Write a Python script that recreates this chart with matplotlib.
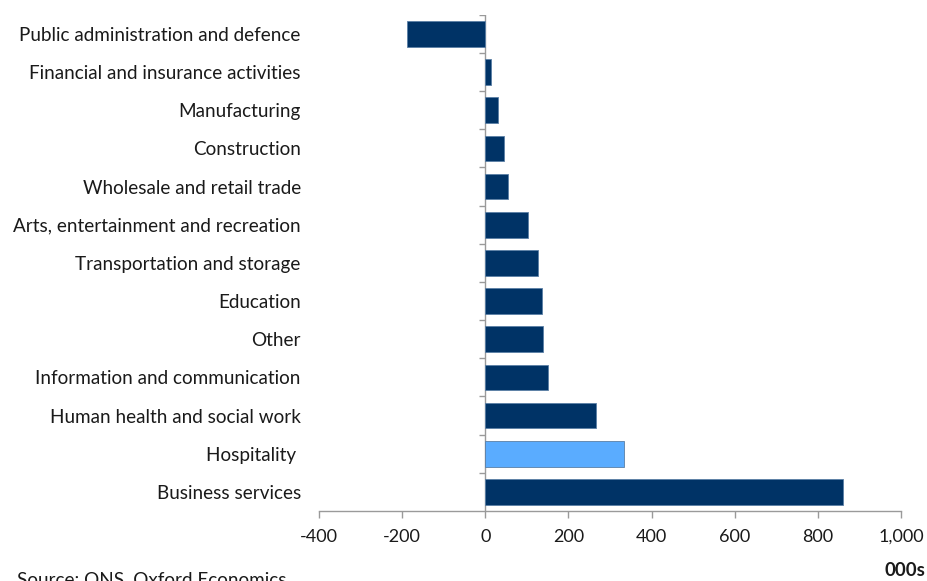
import numpy as np
import matplotlib.pyplot as plt

# Change in jobs by sector, thousands (top to bottom)
sectors = ['Public administration and defence', 'Financial and insurance activities',
           'Manufacturing', 'Construction', 'Wholesale and retail trade',
           'Arts, entertainment and recreation', 'Transportation and storage',
           'Education', 'Other', 'Information and communication',
           'Human health and social work', 'Hospitality ', 'Business services']
change = [-188, 14, 31, 44, 55, 104, 126, 137, 139, 150, 266, 333, 860]
highlight = 'Hospitality '

navy = '#003366'
light = '#5aacff'
grey = '#9a9a9a'

plt.rcParams['font.family'] = ['Lato', 'DejaVu Sans']

fig = plt.figure(figsize=(9.27, 5.81), dpi=100)
ax = fig.add_axes([0.344, 0.1205, 0.628, 0.854])

pos = np.arange(len(sectors))
colors = [light if s == highlight else navy for s in sectors]
ax.barh(pos, change, height=0.67, color=colors, edgecolor='#5a7fa6', linewidth=0.6, zorder=2)

ax.set_xlim(-400, 1000)
ax.set_ylim(len(sectors) - 0.5, -0.5)
ax.set_xticks(range(-400, 1001, 200))
ax.set_xticklabels(['{:,}'.format(v) for v in range(-400, 1001, 200)], fontsize=13, color='#1a1a1a')
ax.set_yticks(pos)
ax.set_yticklabels(sectors, fontsize=13.6, color='#1a1a1a')
ax.tick_params(axis='y', length=0, pad=13)
ax.tick_params(axis='x', length=5, width=1, color=grey, pad=8)

for side in ['top', 'right', 'left']:
    ax.spines[side].set_visible(False)
ax.spines['bottom'].set_color(grey)
ax.spines['bottom'].set_linewidth(1)

# vertical axis through zero with category boundary ticks
ax.axvline(0, color=grey, lw=1, zorder=1)
bounds = np.arange(len(sectors)) - 0.5
ax.hlines(bounds, -14, 0, color=grey, lw=1, zorder=1)

fig.text(0.998, 0.003, '000s', ha='right', va='bottom', fontsize=13.5, fontweight='bold', color='#1a1a1a')
fig.text(0.018, -0.012, 'Source: ONS, Oxford Economics', ha='left', va='bottom', fontsize=13.6, color='#1a1a1a')

fig.savefig('out.png', dpi=100)
